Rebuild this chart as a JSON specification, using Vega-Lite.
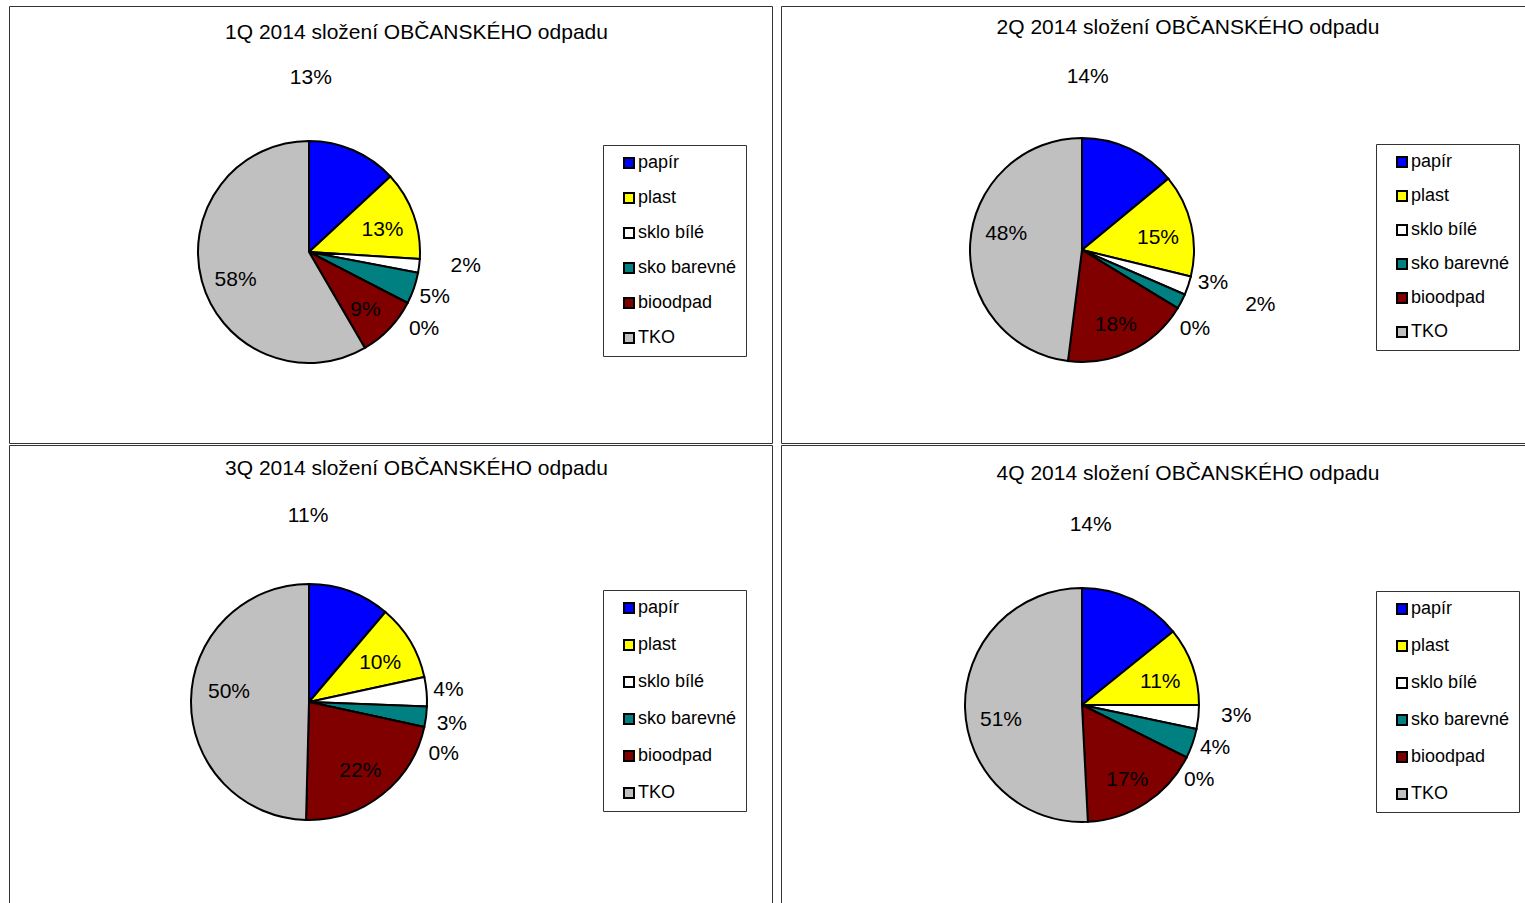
{
  "$schema": "https://vega.github.io/schema/vega-lite/v6.json",
  "background": "white",
  "padding": {"left": 8, "top": 5, "right": 0, "bottom": 0},
  "config": {
    "font": "Liberation Sans",
    "view": {"stroke": "#333333", "strokeWidth": 1},
    "title": {"font": "Liberation Sans", "fontSize": 21, "fontWeight": "normal", "color": "black", "anchor": "middle", "frame": "group", "baseline": "alphabetic"},
    "text": {"font": "Liberation Sans", "fontSize": 21, "fill": "black"},
    "arc": {"stroke": "black", "strokeWidth": 2},
    "legend": {
      "orient": "none", "title": null, "symbolType": "square", "symbolSize": 100,
      "symbolStrokeColor": "black", "symbolStrokeWidth": 2, "labelFont": "Liberation Sans",
      "labelFontSize": 18, "labelColor": "black", "labelOffset": 0, "symbolOffset": 8,
      "padding": 9, "strokeColor": "#333333", "fillColor": "white"
    }
  },
  "datasets": {
    "q1": [
      {"k": "papír", "o": 1, "v": 0.131},
      {"k": "plast", "o": 2, "v": 0.129},
      {"k": "sklo bílé", "o": 3, "v": 0.020},
      {"k": "sko barevné", "o": 4, "v": 0.046},
      {"k": "ostatní", "o": 5, "v": 0},
      {"k": "bioodpad", "o": 6, "v": 0.090},
      {"k": "TKO", "o": 7, "v": 0.584}
    ],
    "q2": [
      {"k": "papír", "o": 1, "v": 0.140},
      {"k": "plast", "o": 2, "v": 0.148},
      {"k": "sklo bílé", "o": 3, "v": 0.027},
      {"k": "sko barevné", "o": 4, "v": 0.022},
      {"k": "ostatní", "o": 5, "v": 0},
      {"k": "bioodpad", "o": 6, "v": 0.183},
      {"k": "TKO", "o": 7, "v": 0.480}
    ],
    "q3": [
      {"k": "papír", "o": 1, "v": 0.112},
      {"k": "plast", "o": 2, "v": 0.104},
      {"k": "sklo bílé", "o": 3, "v": 0.040},
      {"k": "sko barevné", "o": 4, "v": 0.028},
      {"k": "ostatní", "o": 5, "v": 0},
      {"k": "bioodpad", "o": 6, "v": 0.220},
      {"k": "TKO", "o": 7, "v": 0.496}
    ],
    "q4": [
      {"k": "papír", "o": 1, "v": 0.142},
      {"k": "plast", "o": 2, "v": 0.108},
      {"k": "sklo bílé", "o": 3, "v": 0.033},
      {"k": "sko barevné", "o": 4, "v": 0.041},
      {"k": "ostatní", "o": 5, "v": 0},
      {"k": "bioodpad", "o": 6, "v": 0.168},
      {"k": "TKO", "o": 7, "v": 0.508}
    ]
  },
  "spacing": 0,
  "resolve": {"scale": {"color": "independent"}, "legend": {"color": "independent"}},
  "vconcat": [
    {
      "spacing": 7,
      "resolve": {"scale": {"color": "independent"}, "legend": {"color": "independent"}},
      "hconcat": [
        {
          "width": 763, "height": 437,
          "view": {"stroke": "#333333", "strokeWidth": 1},
          "data": {"name": "q1"},
          "title": {"text": "1Q 2014 složení OBČANSKÉHO odpadu", "dx": 26, "offset": -37},
          "encoding": {
            "theta": {"field": "v", "type": "quantitative", "stack": true},
            "order": {"field": "o", "type": "quantitative"},
            "detail": {"field": "k", "type": "nominal"}
          },
          "layer": [
            {"mark": {"type": "arc", "x": 300, "y": 246, "radius": 111},
             "encoding": {"color": {"field": "k", "type": "nominal",
               "scale": {"domain": ["papír", "plast", "sklo bílé", "sko barevné", "ostatní", "bioodpad", "TKO"], "range": ["#0000FF", "#FFFF00", "#FFFFFF", "#008080", "#FF00FF", "#800000", "#C0C0C0"]},
               "legend": {"legendX": 594, "legendY": 139, "rowPadding": 17, "labelExpr": "datum.label + '\u00a0\u00a0\u00a0\u00a0'", "values": ["papír", "plast", "sklo bílé", "sko barevné", "bioodpad", "TKO"]}}}},
            {"mark": {"type": "text", "x": 300, "y": 246, "radius": 78, "dy": 4},
             "encoding": {"text": {"condition": {"test": "datum.k === 'plast' || datum.k === 'bioodpad'", "field": "v", "type": "quantitative", "format": ".0%"}, "value": ""}}},
            {"mark": {"type": "text", "x": 300, "y": 246, "radius": 76, "dy": 8},
             "encoding": {"text": {"condition": {"test": "datum.k === 'TKO'", "field": "v", "type": "quantitative", "format": ".0%"}, "value": ""}}},
            {"mark": {"type": "text", "x": 300, "y": 246, "radius": 158, "dy": -6},
             "encoding": {"text": {"condition": {"test": "datum.k === 'sklo bílé'", "field": "v", "type": "quantitative", "format": ".0%"}, "value": ""}}},
            {"mark": {"type": "text", "x": 300, "y": 246, "radius": 133, "dy": 2},
             "encoding": {"text": {"condition": {"test": "datum.k === 'sko barevné'", "field": "v", "type": "quantitative", "format": ".0%"}, "value": ""}}},
            {"mark": {"type": "text", "x": 300, "y": 246, "radius": 142, "dx": -11, "dy": 12},
             "encoding": {"text": {"condition": {"test": "datum.k === 'ostatní'", "field": "v", "type": "quantitative", "format": ".0%"}, "value": ""}}},
            {"mark": {"type": "text", "x": 300, "y": 246, "radius": 172, "dx": -67, "dy": -16},
             "encoding": {"text": {"condition": {"test": "datum.k === 'papír'", "field": "v", "type": "quantitative", "format": ".0%"}, "value": ""}}}
          ]
        },
        {
          "width": 760, "height": 437,
          "view": {"stroke": "#333333", "strokeWidth": 1},
          "data": {"name": "q2"},
          "title": {"text": "2Q 2014 složení OBČANSKÉHO odpadu", "dx": 27, "offset": -32},
          "encoding": {
            "theta": {"field": "v", "type": "quantitative", "stack": true},
            "order": {"field": "o", "type": "quantitative"},
            "detail": {"field": "k", "type": "nominal"}
          },
          "layer": [
            {"mark": {"type": "arc", "x": 301, "y": 244, "radius": 112},
             "encoding": {"color": {"field": "k", "type": "nominal",
               "scale": {"domain": ["papír", "plast", "sklo bílé", "sko barevné", "ostatní", "bioodpad", "TKO"], "range": ["#0000FF", "#FFFF00", "#FFFFFF", "#008080", "#FF00FF", "#800000", "#C0C0C0"]},
               "legend": {"legendX": 595, "legendY": 138, "rowPadding": 16, "labelExpr": "datum.label + '\u00a0\u00a0\u00a0\u00a0'", "values": ["papír", "plast", "sklo bílé", "sko barevné", "bioodpad", "TKO"]}}}},
            {"mark": {"type": "text", "x": 301, "y": 244, "radius": 78, "dy": 5},
             "encoding": {"text": {"condition": {"test": "datum.k === 'plast' || datum.k === 'bioodpad'", "field": "v", "type": "quantitative", "format": ".0%"}, "value": ""}}},
            {"mark": {"type": "text", "x": 301, "y": 244, "radius": 76, "dy": -11},
             "encoding": {"text": {"condition": {"test": "datum.k === 'TKO'", "field": "v", "type": "quantitative", "format": ".0%"}, "value": ""}}},
            {"mark": {"type": "text", "x": 301, "y": 244, "radius": 135, "dx": 3, "dy": -10},
             "encoding": {"text": {"condition": {"test": "datum.k === 'sklo bílé'", "field": "v", "type": "quantitative", "format": ".0%"}, "value": ""}}},
            {"mark": {"type": "text", "x": 301, "y": 244, "radius": 185, "dx": 14, "dy": -30},
             "encoding": {"text": {"condition": {"test": "datum.k === 'sko barevné'", "field": "v", "type": "quantitative", "format": ".0%"}, "value": ""}}},
            {"mark": {"type": "text", "x": 301, "y": 244, "radius": 138, "dx": -5, "dy": 7},
             "encoding": {"text": {"condition": {"test": "datum.k === 'ostatní'", "field": "v", "type": "quantitative", "format": ".0%"}, "value": ""}}},
            {"mark": {"type": "text", "x": 301, "y": 244, "radius": 173, "dx": -68, "dy": -16},
             "encoding": {"text": {"condition": {"test": "datum.k === 'papír'", "field": "v", "type": "quantitative", "format": ".0%"}, "value": ""}}}
          ]
        }
      ]
    },
    {
      "spacing": 7,
      "resolve": {"scale": {"color": "independent"}, "legend": {"color": "independent"}},
      "hconcat": [
        {
          "width": 763, "height": 475,
          "view": {"stroke": "#333333", "strokeWidth": 1},
          "data": {"name": "q3"},
          "title": {"text": "3Q 2014 složení OBČANSKÉHO odpadu", "dx": 26, "offset": -34},
          "encoding": {
            "theta": {"field": "v", "type": "quantitative", "stack": true},
            "order": {"field": "o", "type": "quantitative"},
            "detail": {"field": "k", "type": "nominal"}
          },
          "layer": [
            {"mark": {"type": "arc", "x": 300, "y": 257, "radius": 118},
             "encoding": {"color": {"field": "k", "type": "nominal",
               "scale": {"domain": ["papír", "plast", "sklo bílé", "sko barevné", "ostatní", "bioodpad", "TKO"], "range": ["#0000FF", "#FFFF00", "#FFFFFF", "#008080", "#FF00FF", "#800000", "#C0C0C0"]},
               "legend": {"legendX": 594, "legendY": 145, "rowPadding": 19, "labelExpr": "datum.label + '\u00a0\u00a0\u00a0\u00a0'", "values": ["papír", "plast", "sklo bílé", "sko barevné", "bioodpad", "TKO"]}}}},
            {"mark": {"type": "text", "x": 300, "y": 257, "radius": 83, "dy": 4},
             "encoding": {"text": {"condition": {"test": "datum.k === 'plast' || datum.k === 'bioodpad'", "field": "v", "type": "quantitative", "format": ".0%"}, "value": ""}}},
            {"mark": {"type": "text", "x": 300, "y": 257, "radius": 80, "dy": -9},
             "encoding": {"text": {"condition": {"test": "datum.k === 'TKO'", "field": "v", "type": "quantitative", "format": ".0%"}, "value": ""}}},
            {"mark": {"type": "text", "x": 300, "y": 257, "radius": 140},
             "encoding": {"text": {"condition": {"test": "datum.k === 'sklo bílé'", "field": "v", "type": "quantitative", "format": ".0%"}, "value": ""}}},
            {"mark": {"type": "text", "x": 300, "y": 257, "radius": 144, "dy": 4},
             "encoding": {"text": {"condition": {"test": "datum.k === 'sko barevné'", "field": "v", "type": "quantitative", "format": ".0%"}, "value": ""}}},
            {"mark": {"type": "text", "x": 300, "y": 257, "radius": 146, "dx": -8, "dy": 21},
             "encoding": {"text": {"condition": {"test": "datum.k === 'ostatní'", "field": "v", "type": "quantitative", "format": ".0%"}, "value": ""}}},
            {"mark": {"type": "text", "x": 300, "y": 257, "radius": 186, "dx": -65, "dy": -11},
             "encoding": {"text": {"condition": {"test": "datum.k === 'papír'", "field": "v", "type": "quantitative", "format": ".0%"}, "value": ""}}}
          ]
        },
        {
          "width": 760, "height": 475,
          "view": {"stroke": "#333333", "strokeWidth": 1},
          "data": {"name": "q4"},
          "title": {"text": "4Q 2014 složení OBČANSKÉHO odpadu", "dx": 27, "offset": -39},
          "encoding": {
            "theta": {"field": "v", "type": "quantitative", "stack": true},
            "order": {"field": "o", "type": "quantitative"},
            "detail": {"field": "k", "type": "nominal"}
          },
          "layer": [
            {"mark": {"type": "arc", "x": 301, "y": 260, "radius": 117},
             "encoding": {"color": {"field": "k", "type": "nominal",
               "scale": {"domain": ["papír", "plast", "sklo bílé", "sko barevné", "ostatní", "bioodpad", "TKO"], "range": ["#0000FF", "#FFFF00", "#FFFFFF", "#008080", "#FF00FF", "#800000", "#C0C0C0"]},
               "legend": {"legendX": 595, "legendY": 146, "rowPadding": 19, "labelExpr": "datum.label + '\u00a0\u00a0\u00a0\u00a0'", "values": ["papír", "plast", "sklo bílé", "sko barevné", "bioodpad", "TKO"]}}}},
            {"mark": {"type": "text", "x": 301, "y": 260, "radius": 83, "dy": 5},
             "encoding": {"text": {"condition": {"test": "datum.k === 'plast' || datum.k === 'bioodpad'", "field": "v", "type": "quantitative", "format": ".0%"}, "value": ""}}},
            {"mark": {"type": "text", "x": 301, "y": 260, "radius": 81, "dy": 13},
             "encoding": {"text": {"condition": {"test": "datum.k === 'TKO'", "field": "v", "type": "quantitative", "format": ".0%"}, "value": ""}}},
            {"mark": {"type": "text", "x": 301, "y": 260, "radius": 155, "dy": -5},
             "encoding": {"text": {"condition": {"test": "datum.k === 'sklo bílé'", "field": "v", "type": "quantitative", "format": ".0%"}, "value": ""}}},
            {"mark": {"type": "text", "x": 301, "y": 260, "radius": 141, "dy": -4},
             "encoding": {"text": {"condition": {"test": "datum.k === 'sko barevné'", "field": "v", "type": "quantitative", "format": ".0%"}, "value": ""}}},
            {"mark": {"type": "text", "x": 301, "y": 260, "radius": 139, "dx": -7, "dy": 13},
             "encoding": {"text": {"condition": {"test": "datum.k === 'ostatní'", "field": "v", "type": "quantitative", "format": ".0%"}, "value": ""}}},
            {"mark": {"type": "text", "x": 301, "y": 260, "radius": 180, "dx": -69, "dy": -18},
             "encoding": {"text": {"condition": {"test": "datum.k === 'papír'", "field": "v", "type": "quantitative", "format": ".0%"}, "value": ""}}}
          ]
        }
      ]
    }
  ]
}
